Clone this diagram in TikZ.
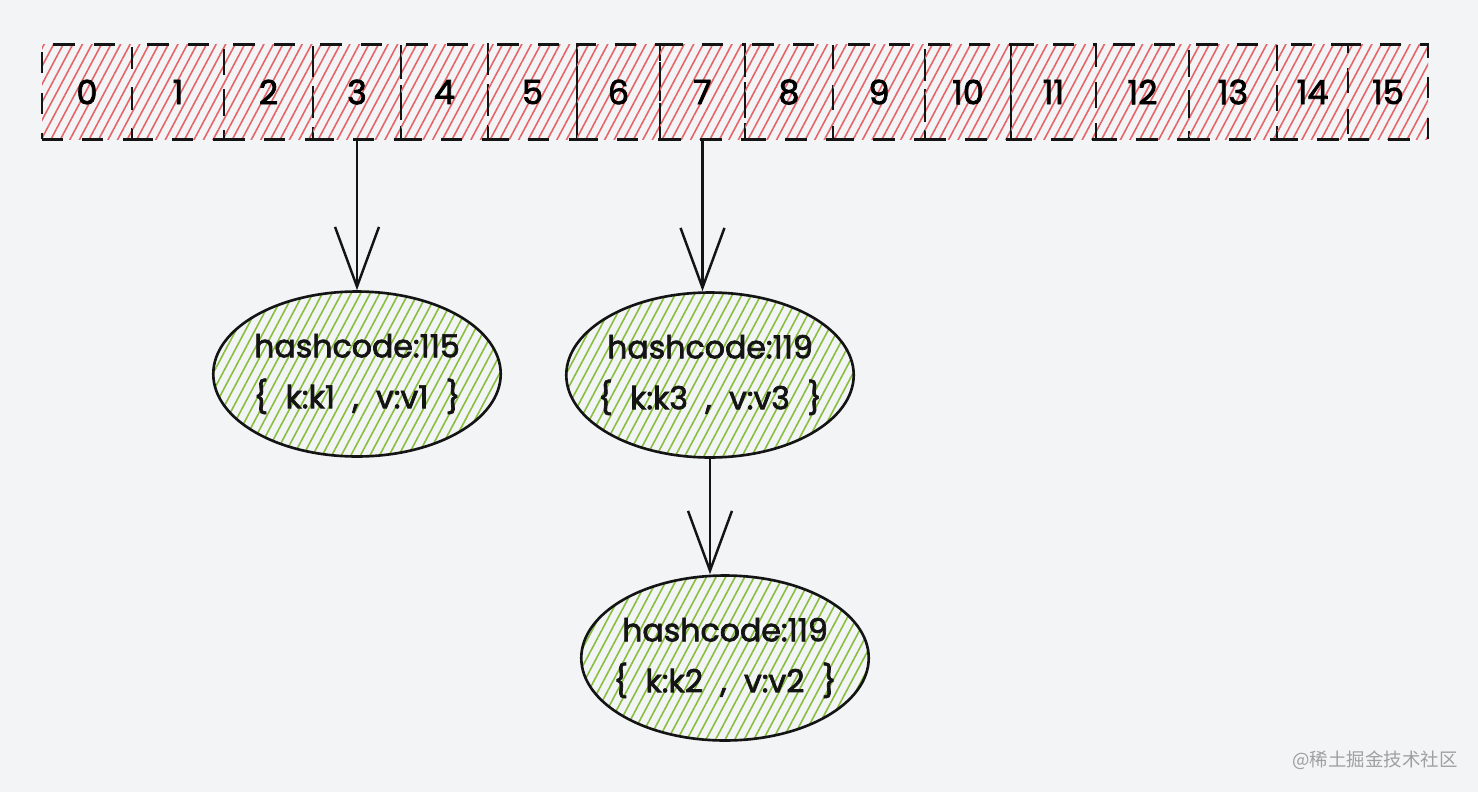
\documentclass[tikz,border=0pt]{standalone}
\usepackage{fontspec}
\setmainfont{Poppins}[FakeBold=2.2]
\newfontfamily\cjk{Noto Sans CJK SC}
\usetikzlibrary{arrows.meta,patterns.meta,shapes.geometric}
\definecolor{bg}{RGB}{243,244,246}
\definecolor{hatchred}{RGB}{230,100,104}
\definecolor{hatchgreen}{RGB}{135,190,60}
\definecolor{ink}{RGB}{20,20,20}
\newcommand{\gap}{\hspace{0.55em}}
\begin{document}
\begin{tikzpicture}[
    x=0.02cm, y=-0.02cm,
    cell/.style={draw=ink, line width=1.3pt, dash pattern=on 12pt off 11pt,
        pattern={Lines[angle=62,distance=4.8pt,line width=0.9pt]}, pattern color=hatchred,
        minimum height=1.9cm, inner sep=0pt, font=\fontsize{19}{22}\selectfont},
    entry/.style={ellipse, draw=ink, line width=1.5pt,
        pattern={Lines[angle=62,distance=4.8pt,line width=0.9pt]}, pattern color=hatchgreen,
        minimum width=5.75cm, minimum height=3.3cm, inner sep=0pt},
    lbl/.style={align=center, text=ink, font=\fontsize{18}{29}\selectfont},
    link/.style={draw=ink, line width=1.4pt,
        -{Straight Barb[length=34pt,width=25pt,line width=1.4pt]}}
]

% canvas
\fill[bg] (0,0) rectangle (1478,792);
\useasboundingbox (0,0) rectangle (1478,792);

% bucket array
\foreach \n/\a/\b in {0/42/132,1/132/224,2/224/313,3/313/401,4/401/488,5/488/577,
    6/577/660,7/660/745,8/745/833,9/833/925,10/925/1011,11/1011/1096,
    12/1096/1189,13/1189/1277,14/1277/1348,15/1348/1428}
    \node[cell, minimum width={(\b-\a)*0.02cm}] (c\n) at ({(\a+\b)/2},92) {\n};

% entries
\node[entry] (e1) at (357,374) {};
\node[lbl] (e1t) at (e1) {hashcode:115\\\{\gap k:k1\gap,\gap v:v1\gap\}};

\node[entry] (e2) at (710,375) {};
\node[lbl] (e2t) at (e2) {hashcode:119\\\{\gap k:k3\gap,\gap v:v3\gap\}};

\node[entry] (e3) at (725,658) {};
\node[lbl] (e3t) at (e3) {hashcode:119\\\{\gap k:k2\gap,\gap v:v2\gap\}};

% links
\draw[link] (c3.south) -- (e1.north);
\draw[link] (c7.south) -- (c7.south |- e2.north);
\draw[link] (e2.south) -- (e2.south |- e3.north);

% watermark
\node[text=gray!75, font=\cjk\fontsize{10.5}{12}\selectfont] (mark) at (1375,760) {@稀土掘金技术社区};

\end{tikzpicture}
\end{document}
